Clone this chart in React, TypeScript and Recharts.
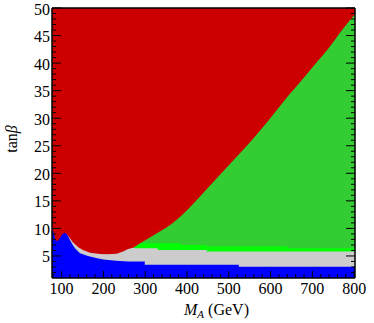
import React from 'react';
import { ComposedChart, Area, XAxis, YAxis } from 'recharts';

// ---- tick values ----
const xMajorTicks = [100, 200, 300, 400, 500, 600, 700, 800];
const xMinorTicks = [80, 120, 140, 160, 180, 220, 240, 260, 280, 320, 340, 360, 380, 420, 440, 460, 480, 520, 540, 560, 580, 620, 640, 660, 680, 720, 740, 760, 780];
const yMajorTicks = [5, 10, 15, 20, 25, 30, 35, 40, 45, 50];
const yMinorTicks = [2, 3, 4, 6, 7, 8, 9, 11, 12, 13, 14, 16, 17, 18, 19, 21, 22, 23, 24, 26, 27, 28, 29, 31, 32, 33, 34, 36, 37, 38, 39, 41, 42, 43, 44, 46, 47, 48, 49];

// ---- region boundaries (M_A in GeV, tan beta) ----
// red: whole panel (excluded region)
const redRegion = [
  { m: 77, t: 50 },
  { m: 802, t: 50 },
];
// green: below red/green boundary
const greenTop = [
  { m: 265, t: 6.3 }, { m: 271, t: 6.5 }, { m: 290, t: 7.4 }, { m: 310, t: 8.3 },
  { m: 330, t: 9.2 }, { m: 350, t: 10.1 }, { m: 366, t: 11.0 }, { m: 385, t: 12.2 },
  { m: 400, t: 13.3 }, { m: 430, t: 15.7 }, { m: 475, t: 19.4 }, { m: 515, t: 22.7 },
  { m: 555, t: 26.0 }, { m: 595, t: 29.6 }, { m: 634, t: 33.3 }, { m: 677, t: 37.1 },
  { m: 702, t: 39.4 }, { m: 742, t: 43.0 }, { m: 766, t: 45.5 }, { m: 802, t: 48.9 },
];
// light green strip top
const limeTop = [
  { m: 276, t: 6.6 }, { m: 284, t: 7.1 }, { m: 290, t: 7.3 }, { m: 385, t: 7.3 },
  { m: 385, t: 7.0 }, { m: 447, t: 7.0 }, { m: 447, t: 6.7 }, { m: 641, t: 6.7 },
  { m: 641, t: 6.4 }, { m: 802, t: 6.4 },
];
// grey region top
const greyTop = [
  { m: 114, t: 8.8 }, { m: 120, t: 8.2 }, { m: 127, t: 7.5 }, { m: 140, t: 6.6 },
  { m: 151, t: 6.1 }, { m: 168, t: 5.6 }, { m: 192, t: 5.35 }, { m: 209, t: 5.3 },
  { m: 232, t: 5.4 }, { m: 247, t: 5.8 }, { m: 259, t: 6.25 }, { m: 271, t: 6.5 },
  { m: 276, t: 6.4 }, { m: 330, t: 6.4 }, { m: 330, t: 6.1 }, { m: 447, t: 6.1 },
  { m: 447, t: 5.8 }, { m: 802, t: 5.8 },
];
// blue region top
const blueTop = [
  { m: 77, t: 9.6 }, { m: 80, t: 9.5 }, { m: 83, t: 8.6 }, { m: 86, t: 7.7 },
  { m: 92, t: 7.8 }, { m: 97, t: 8.4 }, { m: 102, t: 9.0 }, { m: 108, t: 9.2 },
  { m: 114, t: 8.8 }, { m: 120, t: 7.9 }, { m: 126, t: 7.1 }, { m: 132, t: 6.4 },
  { m: 144, t: 5.5 }, { m: 163, t: 5.0 }, { m: 185, t: 4.6 }, { m: 200, t: 4.35 },
  { m: 230, t: 4.15 }, { m: 260, t: 4.0 }, { m: 299, t: 4.0 }, { m: 299, t: 3.4 },
  { m: 524, t: 3.4 }, { m: 524, t: 3.05 }, { m: 802, t: 3.05 },
];

const FONT = 'Liberation Serif, DejaVu Serif, Times New Roman, serif';
const xAllTicks = [...xMinorTicks, ...xMajorTicks].sort((a, b) => a - b);
const yAllTicks = [...yMinorTicks, ...yMajorTicks].sort((a, b) => a - b);

const BottomTick = (props: any) => {
  const { x, y, payload } = props;
  const major = xMajorTicks.includes(payload.value);
  return (
    <g>
      <line x1={x} x2={x} y1={y} y2={y - (major ? 7 : 4)} stroke="#000" strokeWidth={1} />
      {major && (
        <text x={x} y={y + 16} textAnchor="middle" style={{ fontFamily: FONT }} fontSize={16} fill="#000">
          {payload.value}
        </text>
      )}
    </g>
  );
};
const TopTick = (props: any) => {
  const { x, y, payload } = props;
  const major = xMajorTicks.includes(payload.value);
  return <line x1={x} x2={x} y1={y} y2={y + (major ? 7 : 4)} stroke="#000" strokeWidth={1} />;
};
const LeftTick = (props: any) => {
  const { x, y, payload } = props;
  const major = yMajorTicks.includes(payload.value);
  return (
    <g>
      <line x1={x} x2={x + (major ? 9 : 4)} y1={y} y2={y} stroke="#000" strokeWidth={1} />
      {major && (
        <text x={x - 2} y={y + 6.5} textAnchor="end" style={{ fontFamily: FONT }} fontSize={16} fill="#000">
          {payload.value}
        </text>
      )}
    </g>
  );
};
const RightTick = (props: any) => {
  const { x, y, payload } = props;
  const major = yMajorTicks.includes(payload.value);
  return <line x1={x} x2={x - (major ? 9 : 4)} y1={y} y2={y} stroke="#000" strokeWidth={1} />;
};

const XTitle = (props: any) => {
  const vb = props.viewBox || {};
  const cx = vb.x + vb.width / 2 + 13;
  return (
    <text x={cx} y={vb.y + 36.5} textAnchor="middle" style={{ fontFamily: FONT }} fontSize={16} fill="#000">
      <tspan fontStyle="italic">M</tspan>
      <tspan fontStyle="italic" fontSize={11} dy={3}>A</tspan>
      <tspan dy={-3}> (GeV)</tspan>
    </text>
  );
};
const YTitle = (props: any) => {
  const vb = props.viewBox || {};
  const cy = vb.y + vb.height / 2 - 4;
  return (
    <text x={17} y={cy} transform={`rotate(-90, 17, ${cy})`} textAnchor="middle" style={{ fontFamily: FONT }} fontSize={16} fill="#000">
      tan<tspan fontStyle="italic">β</tspan>
    </text>
  );
};

const areaCommon = {
  dataKey: 't',
  stroke: 'none',
  fillOpacity: 1,
  dot: false,
  activeDot: false,
  isAnimationActive: false,
  baseValue: 1,
  type: 'linear' as const,
};

export default function App() {
  return (
    <div style={{ position: 'absolute', left: 0, top: 0 }}>
      <ComposedChart width={374} height={323} margin={{ top: 7, right: 18, bottom: 44, left: 51 }}>
        <XAxis
          xAxisId={0}
          dataKey="m"
          type="number"
          domain={[77, 802]}
          allowDataOverflow
          ticks={xAllTicks}
          interval={0}
          height={1}
          tickSize={0}
          tickMargin={0}
          tickLine={false}
          tick={(p: any) => <BottomTick {...p} />}
          axisLine={{ stroke: '#000', strokeWidth: 1.5 }}
          label={(p: any) => <XTitle {...p} />}
        />
        <XAxis
          xAxisId="top"
          orientation="top"
          type="number"
          domain={[77, 802]}
          allowDataOverflow
          ticks={xAllTicks}
          interval={0}
          height={1}
          tickSize={0}
          tickMargin={0}
          tickLine={false}
          tick={(p: any) => <TopTick {...p} />}
          axisLine={{ stroke: '#000', strokeWidth: 1.5 }}
        />
        <YAxis
          yAxisId={0}
          type="number"
          domain={[1, 50]}
          allowDataOverflow
          ticks={yAllTicks}
          interval={0}
          width={1}
          tickSize={0}
          tickMargin={0}
          tickLine={false}
          tick={(p: any) => <LeftTick {...p} />}
          axisLine={{ stroke: '#000', strokeWidth: 1.5 }}
          label={(p: any) => <YTitle {...p} />}
        />
        <YAxis
          yAxisId="right"
          orientation="right"
          type="number"
          domain={[1, 50]}
          allowDataOverflow
          ticks={yAllTicks}
          interval={0}
          width={1}
          tickSize={0}
          tickMargin={0}
          tickLine={false}
          tick={(p: any) => <RightTick {...p} />}
          axisLine={{ stroke: '#000', strokeWidth: 1.5 }}
        />
        <Area {...areaCommon} data={redRegion} fill="#CC0000" />
        <Area {...areaCommon} type="monotone" data={greenTop} fill="#33CC33" />
        <Area {...areaCommon} data={limeTop} fill="#00FF00" />
        <Area {...areaCommon} data={greyTop} fill="#CCCCCC" />
        <Area {...areaCommon} data={blueTop} fill="#0000FF" />
      </ComposedChart>
    </div>
  );
}
